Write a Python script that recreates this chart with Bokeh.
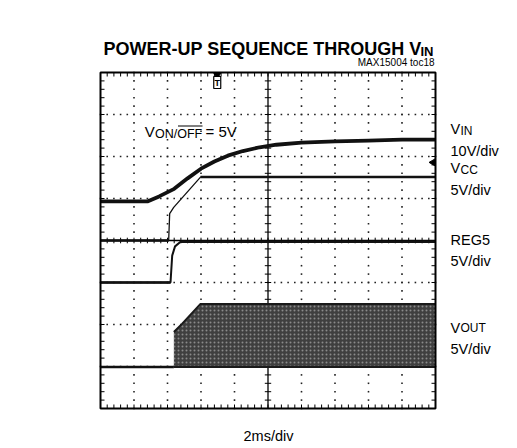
import numpy as np
from bokeh.plotting import figure
from bokeh.models import Range1d, Label
from bokeh.embed import file_html
from bokeh.resources import INLINE

# ---- data: time in ms (2 ms/div), level in screen divisions (8 div tall) ----
vin_t = [0.0, 2.8, 3.5, 4.4, 5.2, 6.0, 6.8, 7.6, 8.5, 9.5, 10.5, 12.0, 14.0, 16.0, 18.0, 20.0]
vin_y = [4.93, 4.93, 5.05, 5.23, 5.48, 5.71, 5.88, 6.02, 6.13, 6.22, 6.28, 6.33, 6.36, 6.38, 6.40, 6.40]

vcc_t = [0.0, 4.07, 4.13, 4.37, 5.97, 20.0]
vcc_y = [4.0, 4.0, 4.64, 4.79, 5.51, 5.51]

reg5_t = [0.0, 4.18, 4.28, 4.45, 4.78, 20.0]
reg5_y = [3.0, 3.0, 3.64, 3.86, 3.97, 3.97]

vout_t = [0.0, 4.38]
vout_y = [0.99, 0.99]

band_t = [4.38, 4.88, 5.97, 20.0]
band_lo = [0.99, 0.99, 0.99, 0.99]
band_hi = [1.82, 2.02, 2.49, 2.49]

trigger_t = 6.97
trigger_level = 5.86

# ---- geometry: scope screen occupies page px 100..435 x 72..408 ----
W, H = 512, 446
FL, FT, FW, FH = 100, 72, 335, 336
def X(px):
    return (px - FL) / FW * 20.0
def Y(py):
    return (FT + FH - py) / FH * 8.0

p = figure(width=W, height=H, output_backend="svg", toolbar_location=None,
           x_range=Range1d(X(0), X(W)), y_range=Range1d(Y(H), Y(0)),
           x_axis_type=None, y_axis_type=None,
           min_border_left=0, min_border_right=0, min_border_top=0, min_border_bottom=0)
p.grid.visible = False
p.outline_line_color = None
p.background_fill_color = "white"
p.border_fill_color = "white"

# ---- graticule ----
xminor = np.arange(0, 20.001, 0.4)
yminor = np.arange(0, 8.001, 0.2)
gx, gy = [], []
for xm in [2, 4, 6, 8, 12, 14, 16, 18]:
    gx += [xm] * len(yminor); gy += list(yminor)
for ym in [1, 2, 3, 5, 6, 7]:
    gx += list(xminor); gy += [ym] * len(xminor)
p.scatter(gx, gy, marker="square", size=1.6, color="#222222", line_width=0)

# centre lines
p.segment(x0=[0, 10], y0=[4, 0], x1=[20, 10], y1=[4, 8], line_color="black", line_width=1.3)
tx = 4 * 20 / FW   # 4 px in x data
ty = 4 * 8 / FH    # 4 px in y data
p.segment(x0=xminor, y0=4 - ty * 0.7, x1=xminor, y1=4 + ty * 0.7, line_color="black", line_width=1)
p.segment(x0=10 - tx * 0.8, y0=yminor, x1=10 + tx * 0.8, y1=yminor, line_color="black", line_width=1)
# ticks on border
p.segment(x0=xminor, y0=0, x1=xminor, y1=ty, line_color="black", line_width=1)
p.segment(x0=xminor, y0=8, x1=xminor, y1=8 - ty, line_color="black", line_width=1)
p.segment(x0=0, y0=yminor, x1=tx, y1=yminor, line_color="black", line_width=1)
p.segment(x0=20, y0=yminor, x1=20 - tx, y1=yminor, line_color="black", line_width=1)

# ---- traces ----
p.varea(x=band_t, y1=band_lo, y2=band_hi, fill_color="#3f3f3f",
        hatch_pattern="dot", hatch_color="#8a8a8a", hatch_scale=4, hatch_weight=0.8)
p.line(band_t, band_hi, line_color="#1a1a1a", line_width=2)
p.line(band_t, band_lo, line_color="#1a1a1a", line_width=2)
p.line(vout_t, vout_y, line_color="#111111", line_width=2.5)

p.line(reg5_t, reg5_y, line_color="#111111", line_width=2)
p.line(reg5_t[:2], reg5_y[:2], line_color="#111111", line_width=2.5)
p.line(reg5_t[-2:], reg5_y[-2:], line_color="#111111", line_width=2.5)

p.line(vcc_t, vcc_y, line_color="#111111", line_width=1.3)
p.line(vcc_t[-2:], vcc_y[-2:], line_color="#111111", line_width=2.5)
p.line(vcc_t[:2], vcc_y[:2], line_color="#111111", line_width=2.5)

p.line(vin_t, vin_y, line_color="#111111", line_width=3.8)

# screen border
p.quad(left=[0], right=[20], bottom=[0], top=[8], fill_color=None, line_color="black", line_width=2)

# trigger markers
p.scatter([trigger_t], [8 - ty * 0.6], marker="inverted_triangle", size=7, color="black")
p.rect([trigger_t], [Y(82)], width=7, height=12, width_units="screen", height_units="screen",
       fill_color="white", line_color="black", line_width=1.2)
p.text([trigger_t], [Y(82)], text=["T"], text_align="center", text_baseline="middle",
       text_font_size="9px", text_font_style="bold", text_color="black")
p.scatter([20 - tx * 0.6], [trigger_level], marker="triangle", angle=np.pi / 2, size=7, color="black")

# overline on OFF
p.segment(x0=[X(177.5)], y0=[Y(125.5)], x1=[X(202)], y1=[Y(125.5)], line_color="black", line_width=1)

FONT = "Liberation Sans"
DY = -5.5   # rendered text sits lower than the requested baseline
def lab(px, py, text, size, align="left", bold=False):
    p.add_layout(Label(x=X(px), y=Y(py + DY), text=text, text_font=FONT, text_font_size=size,
                       text_align=align, text_baseline="alphabetic", text_color="black",
                       text_font_style="bold" if bold else "normal"))

# title
lab(103, 53.7, "POWER-UP SEQUENCE THROUGH V", "18px", bold=True)
lab(420, 56.5, "IN", "13px", bold=True)
lab(434, 67.5, "MAX15004 toc18", "10px", align="right")

# in-plot annotation
lab(144.3, 136, "V", "15px")
lab(154.5, 138.5, "ON/OFF", "12.5px")
lab(205, 136, "= 5V", "15px")

# channel labels
lab(450, 133.5, "V", "14.5px")
lab(460, 136, "IN", "12px")
lab(450, 156, "10V/div", "14.5px")
lab(450, 172.5, "V", "14.5px")
lab(460, 175, "CC", "12px")
lab(450, 194.5, "5V/div", "14.5px")
lab(450, 244.5, "REG5", "14.5px")
lab(450, 265.5, "5V/div", "14.5px")
lab(450, 332.5, "V", "14.5px")
lab(460, 333.2, "OUT", "12px")
lab(450, 353.5, "5V/div", "14.5px")

lab(268, 440.5, "2ms/div", "14.5px", align="center")

open("out.html", "w").write(file_html(p, INLINE))
